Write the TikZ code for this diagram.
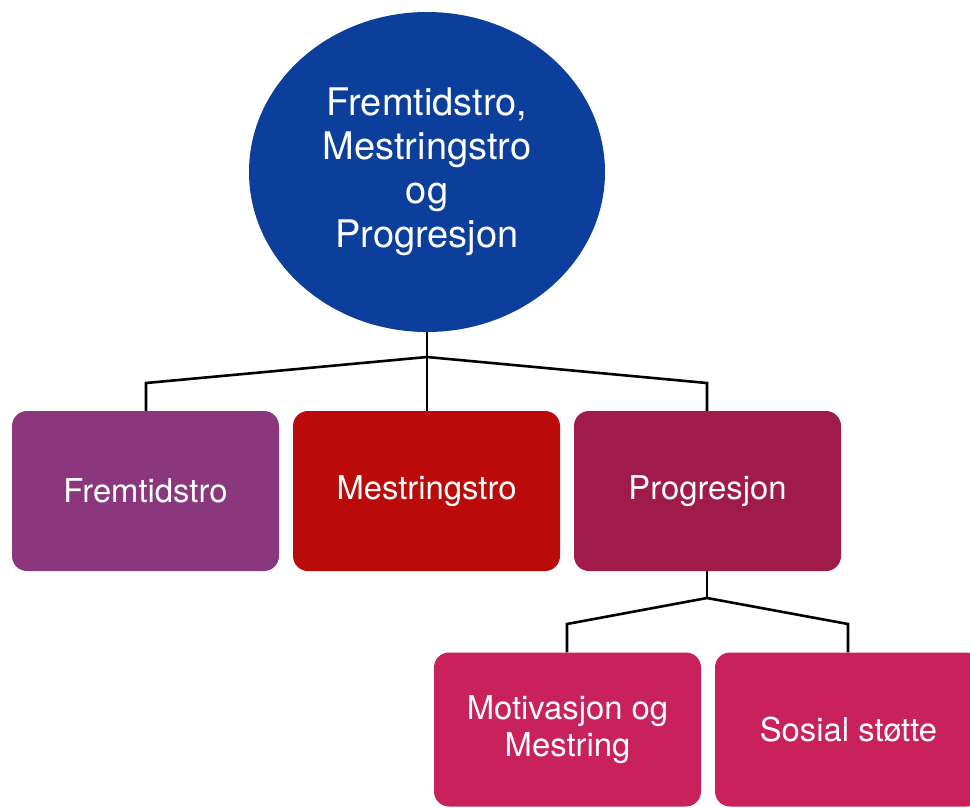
\documentclass[tikz,border=0pt]{standalone}
\usepackage{fontspec}
\setmainfont{TeX Gyre Heros}
\usetikzlibrary{shapes.geometric}
\definecolor{rootblue}{HTML}{0B3F9B}
\definecolor{futurepurple}{HTML}{8B377E}
\definecolor{masteryred}{HTML}{BA0A0A}
\definecolor{progressplum}{HTML}{A01A4A}
\definecolor{leafpink}{HTML}{C8215B}
\tikzset{
  rootnode/.style={ellipse, fill=rootblue, text=white, inner sep=0pt,
    minimum width=356, minimum height=320, align=center,
    font=\fontsize{38}{44}\selectfont},
  boxnode/.style={rectangle, rounded corners=15, text=white, inner sep=0pt,
    minimum width=267, minimum height=160, align=center,
    font=\fontsize{32.8}{37.5}\selectfont},
  leafnode/.style={boxnode, fill=leafpink, minimum height=154},
  link/.style={draw=black, line width=2.6, line join=miter}
}
\begin{document}
\begin{tikzpicture}[x=1pt, y=-1pt]
  \clip (0,0) rectangle (970,807);
  \fill[white] (0,0) rectangle (970,807);

  % top of the hierarchy
  \node[rootnode] (root) at (427,172) {Fremtidstro,\\Mestringstro\\og\\Progresjon};

  % first level
  \node[boxnode, fill=futurepurple] (fremtid) at (145.5,491) {Fremtidstro};
  \node[boxnode, fill=masteryred] (mestring) at (426.5,491) {Mestringstro};
  \node[boxnode, fill=progressplum] (progresjon) at (707.5,491) {Progresjon};

  % second level under Progresjon
  \node[leafnode] (motivasjon) at (567.5,729.5) {Motivasjon og\\Mestring};
  \node[leafnode] (sosial) at (848.5,729.5) {Sosial støtte};

  % elbow points of the connectors
  \coordinate (hub) at (427,357);
  \coordinate (kneeL) at (146,383);
  \coordinate (kneeR) at (707,383);
  \coordinate (hubB) at (707,598);
  \coordinate (kneeBL) at (567,624);
  \coordinate (kneeBR) at (848,624);

  \draw[link] (root.south) -- (hub);
  \draw[link] (hub) -- (kneeL) -- (kneeL |- fremtid.north);
  \draw[link] (hub) -- (kneeR) -- (kneeR |- progresjon.north);
  \draw[link] (hub) -- (hub |- mestring.north);

  \draw[link] (progresjon.south -| hubB) -- (hubB);
  \draw[link] (hubB) -- (kneeBL) -- (kneeBL |- motivasjon.north);
  \draw[link] (hubB) -- (kneeBR) -- (kneeBR |- sosial.north);
\end{tikzpicture}
\end{document}
